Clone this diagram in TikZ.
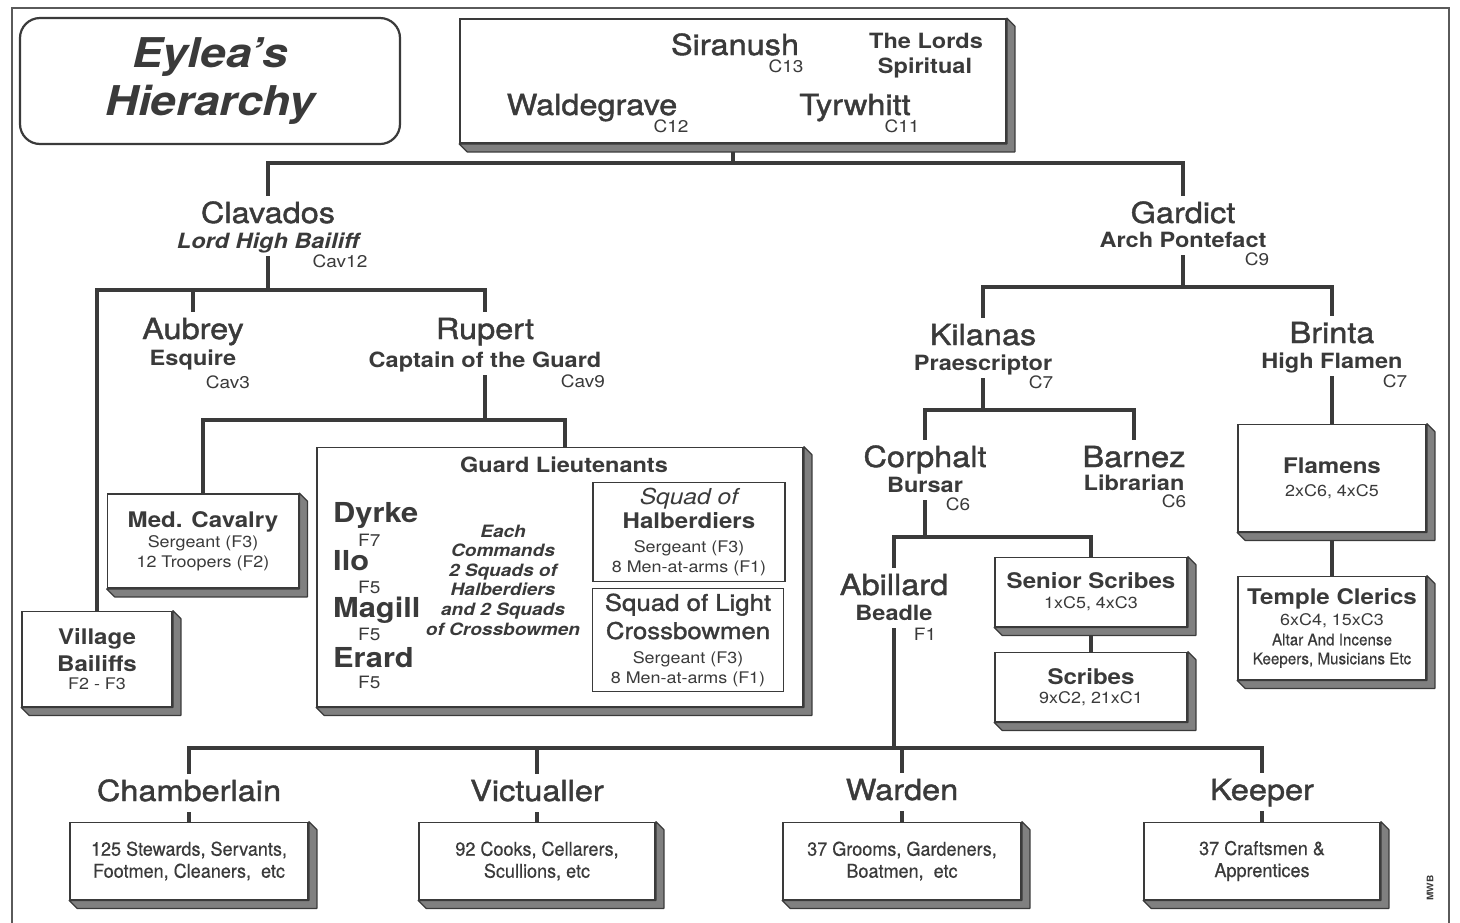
\documentclass[tikz,border=0pt]{standalone}
\usepackage{fontspec}
\setmainfont{TeX Gyre Heros}[FakeStretch=1.12]
\newfontfamily\narrowfam{TeX Gyre Heros}[FakeStretch=0.95, FakeBold=0.4]
\newfontfamily\namefam{TeX Gyre Heros}[FakeStretch=1.12, FakeBold=1.4]

\definecolor{ink}{RGB}{58,58,58}
\definecolor{slabgray}{RGB}{128,128,128}

\newcommand\fName{\namefam\fontsize{29}{34}\selectfont}
\newcommand\fRole{\fontsize{21}{25}\selectfont\bfseries}
\newcommand\fGrade{\fontsize{17}{20}\selectfont}
\newcommand\fHead{\fontsize{21.5}{24}\selectfont\bfseries}
\newcommand\fSmall{\fontsize{16}{20}\selectfont}
\newcommand\fLieut{\fontsize{27.5}{30}\selectfont\bfseries}
\newcommand\fOrder{\fontsize{17}{19.6}\selectfont\bfseries\itshape}
\newcommand\fSquad{\namefam\fontsize{23}{25}\selectfont}
\newcommand\fBanner{\fontsize{41}{48}\selectfont\bfseries\itshape}
\newcommand\fStaff{\narrowfam\fontsize{19}{22}\selectfont}
\newcommand\fStaffS{\narrowfam\fontsize{16}{19}\selectfont}

% raised edge on the right and below a box
\newcommand\slab[1]{\filldraw[slabfill] (#1.north east) -- ++(8,8) |- ([shift={(8,8)}]#1.south west) -- (#1.south west) -- (#1.south east) -- cycle;}

\begin{document}
\begin{tikzpicture}[x=1pt,y=-1pt,
    wire/.style={draw=ink, line width=4.2pt},
    slabbox/.style={draw=ink, line width=1.8pt, fill=white, text=ink, align=center, inner sep=0pt},
    plainbox/.style={draw=ink, line width=1.6pt, text=ink, align=center, inner sep=0pt},
    slabfill/.style={draw=ink, line width=1.2pt, fill=slabgray, line join=round}]

        \fill[white] (0,0) rectangle (1460,922);
        \useasboundingbox (0,0) rectangle (1460,922);
        \draw[draw={rgb,255:red,90;green,90;blue,90}, line width=1.6pt] (12,935) -- (12,8) -- (1449,8) -- (1449,935);

        % boxes
        \node[draw=ink, line width=2.2pt, rounded corners=20pt, minimum width=380, minimum height=126, text=ink, align=center, font=\fBanner] (banner) at (210,81) {Eylea’s\\Hierarchy};
        \node[slabbox, minimum width=546, minimum height=124] (lords) at (733,81) {};
        \node[slabbox, minimum width=191, minimum height=94, font=\fSmall] (medcav) at (203,541) {{\fHead Med. Cavalry}\\Sergeant (F3)\\12 Troopers (F2)};
        \node[slabbox, minimum width=150, minimum height=95, font=\fSmall] (vill) at (97,659) {{\fHead Village}\\[5pt]{\fHead Bailiffs}\\[-2pt]F2 - F3};
        \node[slabbox, minimum width=486, minimum height=259] (guard) at (560,577) {};
        \node[plainbox, minimum width=192, minimum height=99, font=\fSmall] (halb) at (689,532) {{\fontsize{22}{24}\selectfont\itshape Squad of}\\[3pt]{\fHead Halberdiers}\\[4pt]Sergeant (F3)\\8 Men-at-arms (F1)};
        \node[plainbox, minimum width=191, minimum height=103, font=\fSmall] (cross) at (688,640) {{\fSquad Squad of Light}\\[5pt]{\fSquad Crossbowmen}\\[4pt]Sergeant (F3)\\8 Men-at-arms (F1)};
        \node[slabbox, minimum width=188, minimum height=107, font=\fSmall] (flam) at (1332,478) {{\fHead Flamens}\\[3pt]2xC6, 4xC5};
        \node[slabbox, minimum width=188, minimum height=103, font=\fSmall] (temple) at (1332,628) {{\fHead Temple Clerics}\\[1pt]6xC4, 15xC3\\{\fStaffS Altar And Incense}\\[-1pt]{\fStaffS Keepers, Musicians Etc}};
        \node[slabbox, minimum width=192, minimum height=69, font=\fSmall] (senior) at (1091,592) {{\fHead Senior Scribes}\\1xC5, 4xC3};
        \node[slabbox, minimum width=192, minimum height=69, font=\fSmall] (scribes) at (1091,687) {{\fHead Scribes}\\[-1pt]9xC2, 21xC1};
        \node[slabbox, minimum width=238, minimum height=77, font=\fStaff] (chamb) at (189,861) {125 Stewards, Servants,\\Footmen, Cleaners,\ \ etc};
        \node[slabbox, minimum width=236, minimum height=77, font=\fStaff] (victb) at (537,861) {92 Cooks, Cellarers,\\Scullions, etc};
        \node[slabbox, minimum width=238, minimum height=77, font=\fStaff] (wardb) at (902,861) {37 Grooms, Gardeners,\\Boatmen,\ \ etc};
        \node[slabbox, minimum width=236, minimum height=77, font=\fStaff] (keepb) at (1262,861) {37 Craftsmen \&\\Apprentices};

        % the lords
        \begin{scope}[every node/.style={anchor=base, text=ink, font=\fName, text depth=0pt, inner sep=0pt}]
          \node (siranush) at (735,55) {Siranush};
          \node (walde)    at (592,115) {Waldegrave};
          \node (tyr)      at (855,115) {Tyrwhitt};
        \end{scope}

        % names
        \begin{scope}[every node/.style={anchor=base, text=ink, font=\fName, text height=21pt, text depth=5pt, inner sep=6pt}]
          \node (clav)     at (268,223) {Clavados};
          \node (aub)      at (193,339) {Aubrey};
          \node (rup)      at (485,339) {Rupert};
          \node (gard)     at (1183,223) {Gardict};
          \node (kil)      at (983,345) {Kilanas};
          \node (bri)      at (1332,343) {Brinta};
          \node (corp)     at (925,467) {Corphalt};
          \node (barn)     at (1134,467) {Barnez};
          \node (abi)      at (894,595) {Abillard};
          \node (cham)     at (189,801) {Chamberlain};
          \node (vict)     at (537,801) {Victualler};
          \node (ward)     at (902,800) {Warden};
          \node (keep)     at (1262,800) {Keeper};
        \end{scope}

        % offices
        \begin{scope}[every node/.style={anchor=base, text=ink, font=\fRole, text height=15pt, text depth=5pt, inner sep=3pt}]
          \node (lords1) at (926,48) {The Lords};
          \node (lords2) at (925,73) {Spiritual};
          \node (clavt)  at (268,248) {\itshape Lord High Bailiff};
          \node (aubt)   at (193,365) {Esquire};
          \node (rupt)   at (485,367) {Captain of the Guard};
          \node (gardt)  at (1183,247) {Arch Pontefact};
          \node (kilt)   at (983,370) {Praescriptor};
          \node (brit)   at (1332,368) {High Flamen};
          \node (corpt)  at (925,492) {Bursar};
          \node (barnt)  at (1134,490) {Librarian};
          \node (abit)   at (894,620) {Beadle};
          \node (guardh) at (564,472) {Guard Lieutenants};
        \end{scope}

        % grades
        \begin{scope}[every node/.style={anchor=base, text=ink, font=\fGrade, inner sep=2pt}]
          \node (sirg)  at (786,72) {C13};
          \node (waldg) at (671,132) {C12};
          \node (tyrg)  at (902,132) {C11};
          \node (clavg) at (340,267) {Cav12};
          \node (aubg)  at (228,388) {Cav3};
          \node (rupg)  at (583,387) {Cav9};
          \node (gardg) at (1257,265) {C9};
          \node (kilg)  at (1041,388) {C7};
          \node (brig)  at (1395,387) {C7};
          \node (corpg) at (958,510) {C6};
          \node (barng) at (1174,507) {C6};
          \node (abig)  at (925,640) {F1};
        \end{scope}

        % guard lieutenants
        \begin{scope}[every node/.style={anchor=base west, text=ink, inner sep=0pt}]
          \node[font=\fLieut] (dyrke)  at (333,522) {Dyrke};
          \node[font=\fGrade] (dyrkeg) at (358,546) {F7};
          \node[font=\fLieut] (ilo)    at (333,570) {Ilo};
          \node[font=\fGrade] (ilog)   at (358,593) {F5};
          \node[font=\fLieut] (magill) at (333,617) {Magill};
          \node[font=\fGrade] (magg)   at (358,640) {F5};
          \node[font=\fLieut] (erard)  at (333,667) {Erard};
          \node[font=\fGrade] (erardg) at (358,688) {F5};
        \end{scope}
        \node[text=ink, align=center, font=\fOrder] (orders) at (503,580) {Each\\Commands\\2 Squads of\\Halberdiers\\and 2 Squads\\of Crossbowmen};

        \node[rotate=90, text=ink, font=\fontsize{9}{10}\selectfont\bfseries] (sig) at (1430,888) {MWB};

        % connectors
        \coordinate (jtop)  at (733,163);
        \coordinate (jclav) at (268,290);
        \coordinate (jrup)  at (485,420);
        \coordinate (jgard) at (1183,287);
        \coordinate (jkil)  at (983,410);
        \coordinate (jcorp) at (925,537);
        \coordinate (jbot)  at (894,748);

        \draw[wire] (lords.south) -- (jtop);
        \draw[wire] (clav.north) |- (jtop) -| (gard.north);
        \draw[wire] (clavt.south) -- (jclav);
        \draw[wire] (vill.north) |- (jclav) -| (rup.north);
        \draw[wire] (aub.north) -- (aub.north |- jclav);
        \draw[wire] (rupt.south) -- (jrup);
        \draw[wire] (medcav.north) |- (jrup) -| ([xshift=5pt]guard.north);
        \draw[wire] (gardt.south) -- (jgard);
        \draw[wire] (kil.north) |- (jgard) -| (bri.north);
        \draw[wire] (kilt.south) -- (jkil);
        \draw[wire] (corp.north) |- (jkil) -| (barn.north);
        \draw[wire] (brit.south) -- (flam.north);
        \draw[wire] (flam.south) -- (temple.north);
        \draw[wire] (corpt.south) -- (jcorp);
        \draw[wire] (abi.north) |- (jcorp) -| (senior.north);
        \draw[wire] (senior.south) -- (scribes.north);
        \draw[wire] (abit.south) -- (jbot);
        \draw[wire] (cham.north) |- (jbot) -| (keep.north);
        \draw[wire] (vict.north) -- (vict.north |- jbot);
        \draw[wire] (ward.north) -- (ward.north |- jbot);
        \draw[wire] (cham.south) -- (chamb.north);
        \draw[wire] (vict.south) -- (victb.north);
        \draw[wire] (ward.south) -- (wardb.north);
        \draw[wire] (keep.south) -- (keepb.north);

        % raised edges
        \slab{lords} \slab{medcav} \slab{vill} \slab{guard}
        \slab{flam} \slab{temple} \slab{senior} \slab{scribes}
        \slab{chamb} \slab{victb} \slab{wardb} \slab{keepb}

      \end{tikzpicture}
\end{document}
